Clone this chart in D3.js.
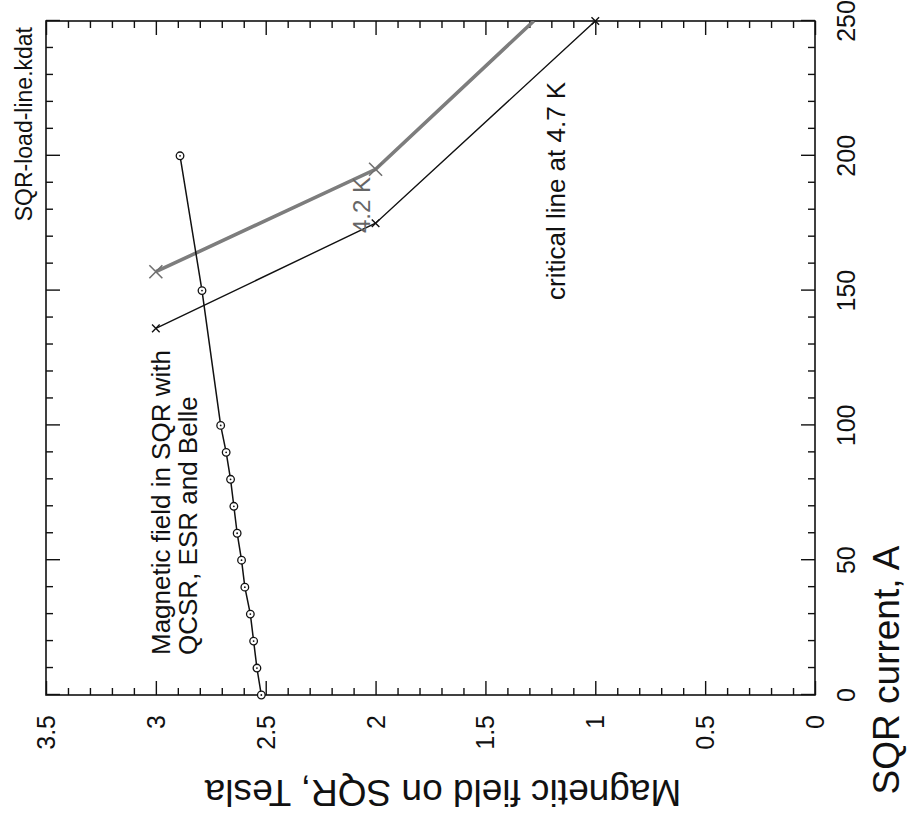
<!DOCTYPE html>
<html><head><meta charset="utf-8">
<script src="https://cdn.jsdelivr.net/npm/d3@7"></script>
<style>body{margin:0;background:#fff} text{font-family:"Liberation Sans",Arial,sans-serif;fill:#111}</style>
</head><body><svg id="c" width="917" height="822"></svg>
<script>
const loadCurrent = [0,10,20,30,40,50,60,70,80,90,100,150,200];
const loadField = [2.52,2.54,2.555,2.57,2.595,2.61,2.63,2.645,2.66,2.68,2.705,2.79,2.89];
const crit47Current = [136,175,250];
const crit47Field = [3.0,2.0,1.0];
const crit42Current = [157,195,250];
const crit42Field = [3.0,2.0,1.28];
const crit42Marked = [true,true,false];
const currentTicks = [0,50,100,150,200,250];
const currentTickLabels = ["0","50","100","150","200","250"];
const fieldTicks = [0,0.5,1,1.5,2,2.5,3,3.5];
const fieldTickLabels = ["0","0.5","1","1.5","2","2.5","3","3.5"];

const svg = d3.select("#c");
// draw in the original landscape frame, then rotate the whole plot
const g = svg.append("g").attr("transform","translate(0,822) rotate(-90)");
const x = d3.scaleLinear().domain([0,250]).range([127,801]);
const y = d3.scaleLinear().domain([0,3.5]).range([815,46]);

const minorCur = d3.range(0,251,10).filter(v=>v%50!==0);
const minorField = d3.range(0,36,1).map(v=>v/10).filter(v=>Math.round(v*10)%5!==0);

function ticks(axisFn, scale, vals, size, tr){
  const a = g.append("g").attr("transform",tr)
    .call(axisFn(scale).tickValues(vals).tickSize(-size).tickFormat(""));
  a.select(".domain").remove();
  a.selectAll(".tick line").attr("stroke","#111").attr("stroke-width",1.4);
}
ticks(d3.axisBottom, x, currentTicks, 14, `translate(0,${y(0)})`);
ticks(d3.axisBottom, x, minorCur, 7, `translate(0,${y(0)})`);
ticks(d3.axisTop, x, currentTicks, 14, `translate(0,${y(3.5)})`);
ticks(d3.axisTop, x, minorCur, 7, `translate(0,${y(3.5)})`);
ticks(d3.axisLeft, y, fieldTicks, 14, `translate(${x(0)},0)`);
ticks(d3.axisLeft, y, minorField, 7, `translate(${x(0)},0)`);
ticks(d3.axisRight, y, fieldTicks, 14, `translate(${x(250)},0)`);
ticks(d3.axisRight, y, minorField, 7, `translate(${x(250)},0)`);

g.append("rect").attr("x",x(0)).attr("y",y(3.5)).attr("width",x(250)-x(0)).attr("height",y(0)-y(3.5))
  .attr("fill","none").attr("stroke","#111").attr("stroke-width",1.6);

// tick labels
g.selectAll(".cl").data(currentTicks).join("text")
  .attr("x",d=>x(d)).attr("y",y(0)+40).attr("text-anchor","middle")
  .style("font-size","25px").text((d,i)=>currentTickLabels[i]);
g.selectAll(".fl").data(fieldTicks).join("text")
  .attr("x",x(0)-20).attr("y",d=>y(d)).attr("dy","0.36em").attr("text-anchor","end")
  .style("font-size","25px").text((d,i)=>fieldTickLabels[i]);

// titles
g.append("text").attr("x",152).attr("y",899).attr("text-anchor","middle")
  .style("font-size","37px").text("SQR current, A");
g.append("text").attr("transform","translate(42,443) rotate(-90)").attr("text-anchor","middle")
  .style("font-size","37px").text("Magnetic field on SQR, Tesla");
g.append("text").attr("x",795).attr("y",32).attr("text-anchor","end")
  .style("font-size","23px").text("SQR-load-line.kdat");

// clip
g.append("clipPath").attr("id","clp").append("rect")
  .attr("x",x(0)).attr("y",y(3.5)).attr("width",x(250)-x(0)).attr("height",y(0)-y(3.5));
const p = g.append("g").attr("clip-path","url(#clp)");

const line = d3.line().x(d=>x(d[0])).y(d=>y(d[1]));
const d42 = crit42Current.map((c,i)=>[c,crit42Field[i]]);
const d47 = crit47Current.map((c,i)=>[c,crit47Field[i]]);
const dLoad = loadCurrent.map((c,i)=>[c,loadField[i]]);

p.append("path").datum(d42).attr("d",line).attr("fill","none").attr("stroke","#7d7d7d").attr("stroke-width",3.6);
p.append("path").datum(d47).attr("d",line).attr("fill","none").attr("stroke","#111").attr("stroke-width",1.4);
p.append("path").datum(dLoad).attr("d",line).attr("fill","none").attr("stroke","#111").attr("stroke-width",1.5);

function cross(sel, s, color, w){
  sel.append("path").attr("d",`M${-s},${-s}L${s},${s}M${-s},${s}L${s},${-s}`)
    .attr("stroke",color).attr("stroke-width",w).attr("fill","none");
}
d42.filter((d,i)=>crit42Marked[i]).forEach(d=>{
  cross(g.append("g").attr("transform",`translate(${x(d[0])},${y(d[1])})`),6.5,"#707070",1.6);
});
d47.forEach(d=>{
  cross(g.append("g").attr("transform",`translate(${x(d[0])},${y(d[1])})`),3.8,"#111",1.4);
});
const cg = g.selectAll(".pt").data(dLoad).join("g")
  .attr("transform",d=>`translate(${x(d[0])},${y(d[1])})`);
cg.append("circle").attr("r",3.8).attr("fill","#fff").attr("stroke","#111").attr("stroke-width",1.3);
cg.append("circle").attr("r",0.9).attr("fill","#111");

// annotations
g.append("text").attr("x",167).attr("y",170).style("font-size","26px").text("Magnetic field in SQR with");
g.append("text").attr("x",167).attr("y",197).style("font-size","26px").text("QCSR, ESR and Belle");
g.append("text").attr("x",522).attr("y",565).style("font-size","26px").text("critical line at 4.7 K");
g.append("text").attr("x",589).attr("y",370).style("font-size","24px").style("fill","#666").text("4.2 K");
</script></body></html>
